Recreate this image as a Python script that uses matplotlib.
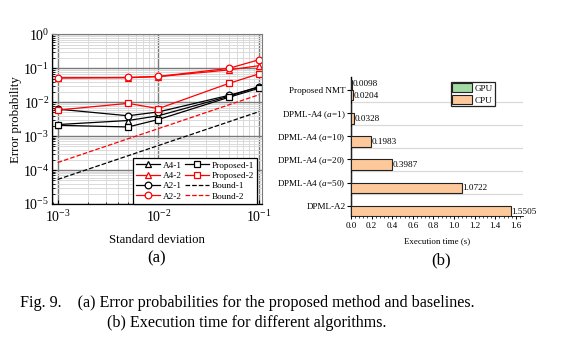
import matplotlib
matplotlib.use("Agg")
import matplotlib.pyplot as plt
import numpy as np
from matplotlib.ticker import LogLocator, NullFormatter, MultipleLocator, FixedLocator, FormatStrFormatter

plt.rcParams['font.family'] = ['Liberation Serif', 'DejaVu Serif']
plt.rcParams['mathtext.fontset'] = 'custom'
plt.rcParams['mathtext.rm'] = 'Liberation Serif'
plt.rcParams['mathtext.it'] = 'Liberation Serif:italic'

# ---------- data (a) ----------
sigma = [1e-3, 5e-3, 1e-2, 5e-2, 1e-1]
a4_1 = [2.2e-3, 2.9e-3, 4.0e-3, 1.5e-2, 2.9e-2]
a4_2 = [5.3e-2, 5.3e-2, 5.7e-2, 9.0e-2, 1.2e-1]
a2_1 = [6.3e-3, 4.0e-3, 5.2e-3, 1.6e-2, 2.8e-2]
a2_2 = [5.2e-2, 5.4e-2, 5.8e-2, 1.0e-1, 1.8e-1]
prop_1 = [2.1e-3, 1.87e-3, 3.1e-3, 1.4e-2, 2.6e-2]
prop_2 = [5.9e-3, 9.3e-3, 6.5e-3, 3.6e-2, 6.9e-2]
bound_1 = [5.3e-5, 2.65e-4, 5.3e-4, 2.65e-3, 5.3e-3]
bound_2 = [1.67e-4, 8.4e-4, 1.67e-3, 8.4e-3, 1.67e-2]

# ---------- data (b) ----------
algorithms = ["Proposed NMT", "DPML-A4 ($a$=1)", "DPML-A4 ($a$=10)",
              "DPML-A4 ($a$=20)", "DPML-A4 ($a$=50)", "DPML-A2"]
gpu_time = [0.0098, 0, 0, 0, 0, 0]
cpu_time = [0.0204, 0.0328, 0.1983, 0.3987, 1.0722, 1.5505]
gpu_labels = ["0.0098", "", "", "", "", ""]
cpu_labels = ["0.0204", "0.0328", "0.1983", "0.3987", "1.0722", "1.5505"]

fig = plt.figure(figsize=(5.83, 3.57), dpi=100)

# ================= (a) =================
ax = fig.add_axes([0.0892, 0.4286, 0.3602, 0.4748])
ax.set_xscale('log')
ax.set_yscale('log')
ax.set_xlim(8.78e-4, 1.07e-1)
ax.set_ylim(1e-5, 1)

ax.grid(True, which='major', color='#7a7a7a', lw=1.0, zorder=0)
ax.grid(True, which='minor', color='#dadada', lw=0.7, zorder=0)
ax.set_axisbelow(True)

mk = dict(markersize=4.8, markerfacecolor='white', markeredgewidth=0.9, lw=0.9)
l1, = ax.plot(sigma, a4_1, '-^', color='black', label='A4-1', **mk)
l2, = ax.plot(sigma, a4_2, '-^', color='red', label='A4-2', **mk)
l3, = ax.plot(sigma, a2_1, '-o', color='black', label='A2-1', **mk)
l4, = ax.plot(sigma, a2_2, '-o', color='red', label='A2-2', **mk)
l5, = ax.plot(sigma, prop_1, '-s', color='black', label='Proposed-1', **mk)
l6, = ax.plot(sigma, prop_2, '-s', color='red', label='Proposed-2', **mk)
l7, = ax.plot(sigma, bound_1, '--', color='black', lw=0.9, label='Bound-1')
l8, = ax.plot(sigma, bound_2, '--', color='red', lw=0.9, label='Bound-2')

ax.xaxis.set_major_locator(FixedLocator([1e-3, 1e-2, 1e-1]))
ax.xaxis.set_minor_locator(LogLocator(base=10, subs=np.arange(2, 10), numticks=20))
ax.yaxis.set_major_locator(LogLocator(base=10, numticks=10))
ax.yaxis.set_minor_locator(LogLocator(base=10, subs=np.arange(2, 10), numticks=20))
ax.xaxis.set_minor_formatter(NullFormatter())
ax.yaxis.set_minor_formatter(NullFormatter())
ax.tick_params(which='both', direction='in', labelsize=10, top=False, right=False)
ax.tick_params(which='major', length=3, width=0.8)
ax.tick_params(which='minor', length=1.8, width=0.6)
ax.tick_params(axis='x', pad=4)
ax.tick_params(axis='y', pad=2)
for s in ['top', 'right']:
    ax.spines[s].set_color('#7a7a7a')
for s in ['left', 'bottom']:
    ax.spines[s].set_color('black')
    ax.spines[s].set_linewidth(0.9)

ax.set_ylabel('Error probability', fontsize=9.3, labelpad=1)
ax.set_xlabel('Standard deviation', fontsize=9.2, labelpad=6)

leg = ax.legend(handles=[l1, l2, l3, l4, l5, l6, l7, l8], ncol=2,
                loc='lower right', bbox_to_anchor=(0.978, 0.0), borderaxespad=0,
                fontsize=6.7, handlelength=2.6, handletextpad=0.25,
                columnspacing=0.4, labelspacing=0.2, borderpad=0.35,
                frameon=True, fancybox=False, edgecolor='black', framealpha=1)
leg.get_frame().set_linewidth(0.9)

fig.text(0.2693, 1 - 258 / 357, '(a)', fontsize=12, ha='center', va='center')

# ================= (b) =================
bx = fig.add_axes([0.602, 0.395, 0.295, 0.389])
ypos = np.arange(len(algorithms))
h = 0.45
bx.barh(ypos - h / 2, gpu_time, height=h, color='#a3d9a3', edgecolor='#222222',
        lw=0.8, label='GPU', zorder=3)
bx.barh(ypos + h / 2, cpu_time, height=h, color='#fdc99b', edgecolor='#222222',
        lw=0.8, label='CPU', zorder=3)
for i in range(len(algorithms)):
    if gpu_labels[i]:
        bx.text(gpu_time[i] + 0.004, ypos[i] - h / 2 - 0.05, gpu_labels[i],
                fontsize=6.6, ha='left', va='center')
    bx.text(cpu_time[i] + 0.004, ypos[i] + h / 2 + 0.03, cpu_labels[i],
            fontsize=6.6, ha='left', va='center')

bx.set_xlim(0, 1.668)
bx.set_ylim(5.445, -0.56)
bx.set_yticks(ypos)
bx.set_yticklabels(algorithms, fontsize=6.6)
bx.set_yticks(ypos[:-1] + 0.5, minor=True)
bx.yaxis.grid(True, which='minor', color='#d9d9d9', lw=0.9, zorder=0)
bx.tick_params(axis='y', which='minor', length=0)
bx.tick_params(axis='y', which='major', length=3, width=0.8, pad=1)
bx.xaxis.set_major_locator(MultipleLocator(0.2))
bx.xaxis.set_minor_locator(MultipleLocator(0.04))
bx.xaxis.set_major_formatter(FormatStrFormatter('%.1f'))
bx.tick_params(axis='x', which='major', length=2.5, width=0.7, labelsize=6.5, pad=2)
bx.tick_params(axis='x', which='minor', length=1.5, width=0.5)
for s in ['top', 'right']:
    bx.spines[s].set_visible(False)
bx.spines['left'].set_linewidth(1.0)
bx.spines['bottom'].set_linewidth(0.6)
bx.set_xlabel('Execution time (s)', fontsize=6.4, labelpad=5)

leg2 = bx.legend(loc='upper left', bbox_to_anchor=(0.58, 0.965), borderaxespad=0,
                 fontsize=6.6, handlelength=2.2, handleheight=1.0,
                 handletextpad=0.3, labelspacing=0.3, borderpad=0.15,
                 frameon=True, fancybox=False, edgecolor='#222222', framealpha=1)
leg2.get_frame().set_linewidth(0.9)

fig.text(441 / 583, 1 - 260 / 357, '(b)', fontsize=12, ha='center', va='center')

# ================= caption =================
fig.text(20 / 583, 1 - 303 / 357,
         'Fig. 9.    (a) Error probabilities for the proposed method and baselines.',
         fontsize=11.6, ha='left', va='center')
fig.text(247 / 583, 1 - 323 / 357,
         '(b) Execution time for different algorithms.',
         fontsize=11.6, ha='center', va='center')

fig.savefig('out.png', dpi=100)
